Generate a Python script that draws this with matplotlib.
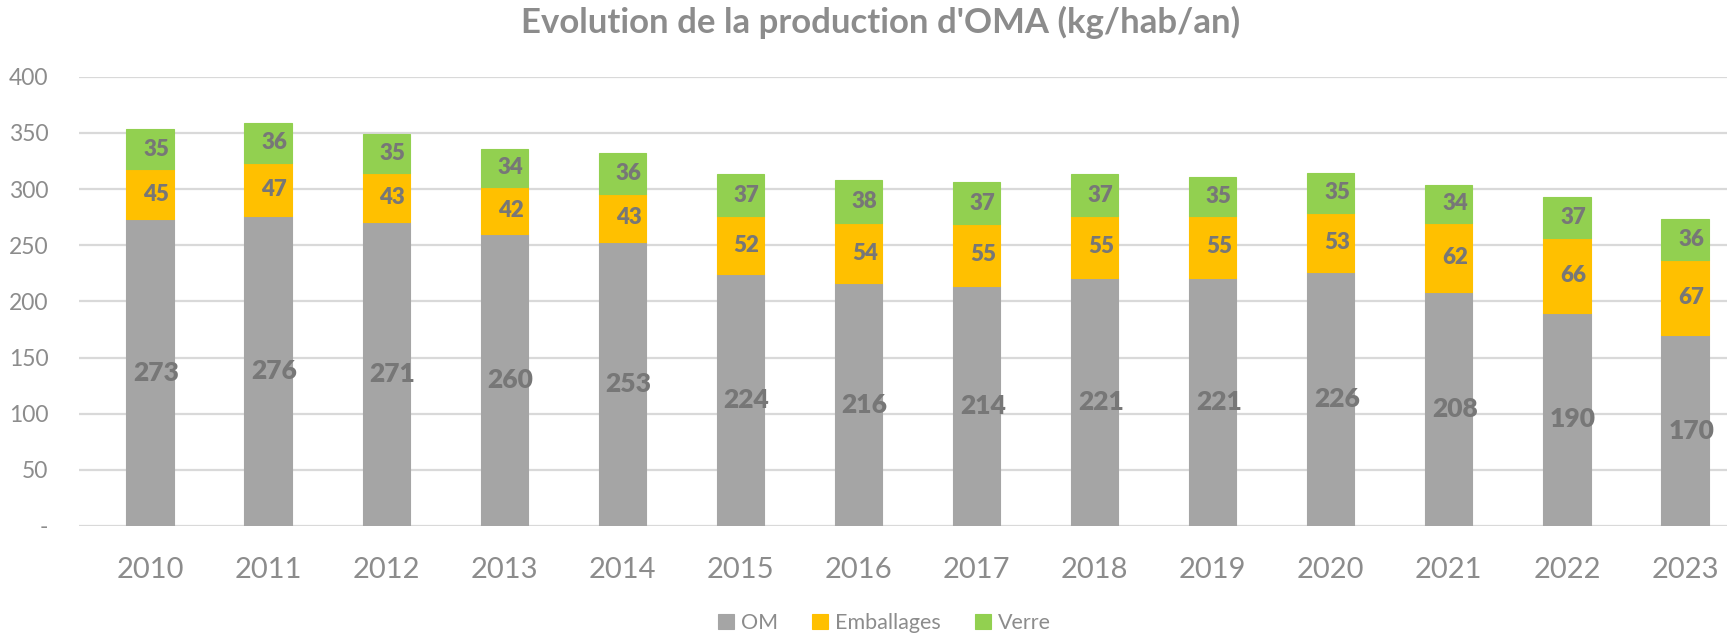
import matplotlib
matplotlib.use("Agg")
import matplotlib.pyplot as plt
import numpy as np

years = ["2010", "2011", "2012", "2013", "2014", "2015", "2016", "2017",
         "2018", "2019", "2020", "2021", "2022", "2023"]
om = [273, 276, 271, 260, 253, 224, 216, 214, 221, 221, 226, 208, 190, 170]
emballages = [45, 47, 43, 42, 43, 52, 54, 55, 55, 55, 53, 62, 66, 67]
verre = [35, 36, 35, 34, 36, 37, 38, 37, 37, 35, 35, 34, 37, 36]
series_names = ["OM", "Emballages", "Verre"]
yticks = [0, 50, 100, 150, 200, 250, 300, 350, 400]
ytick_labels = ["-", "50", "100", "150", "200", "250", "300", "350", "400"]
title = "Evolution de la production d'OMA (kg/hab/an)"

plt.rcParams['font.family'] = ['Lato', 'DejaVu Sans']

colors = ["#a5a5a5", "#ffc000", "#92d050"]
label_color = "#777777"
text_color = "#8c8c8c"

fig = plt.figure(figsize=(17.27, 6.37), dpi=100)
ax = fig.add_axes([79 / 1727, 1 - 526 / 637, 1 - 79 / 1727, (526 - 76.7) / 637])

x = np.arange(len(years))
width = 0.40
data = [om, emballages, verre]
bottom = np.zeros(len(years))
for vals, col, name in zip(data, colors, series_names):
    vals = np.array(vals, dtype=float)
    ax.bar(x, vals, width, bottom=bottom, color=col, label=name, zorder=3,
           edgecolor=col, linewidth=0.8)
    for xi, b, v in zip(x, bottom, vals):
        fs = 19 if name == "OM" else 16
        ax.annotate(f"{int(v)}", (xi, b + v / 2), xytext=(4.5, 0),
                    textcoords="offset points", ha="center", va="center",
                    fontsize=fs, fontweight="heavy", color=label_color, zorder=4)
    bottom += vals

ax.set_ylim(0, 400)
ax.set_xlim(-0.601, 13.356)
ax.set_yticks(yticks)
ax.set_yticklabels(ytick_labels, fontsize=16.5, color=text_color)
ax.set_xticks(x)
ax.set_xticklabels(years, fontsize=21, color=text_color)
ax.tick_params(axis='both', length=0)
ax.tick_params(axis='x', pad=22)
ax.tick_params(axis='y', pad=22)
for lbl in ax.get_yticklabels():
    lbl.set_horizontalalignment('right')
ax.grid(axis='y', color="#d9d9d9", linewidth=1.6, zorder=0)
for s in ax.spines.values():
    s.set_visible(False)

fig.text(881 / 1727, 1 - 22 / 637, title, ha="center", va="center",
         fontsize=25, fontweight="bold", color=text_color)

handles, labels = ax.get_legend_handles_labels()
leg = fig.legend(handles, labels, loc="center", bbox_to_anchor=(0.512, 0.022),
                 ncol=3, frameon=False, fontsize=15.5, handlelength=0.75,
                 handleheight=0.75, handletextpad=0.3, columnspacing=1.6)
for t in leg.get_texts():
    t.set_color(text_color)

fig.savefig("out.png", dpi=100)
